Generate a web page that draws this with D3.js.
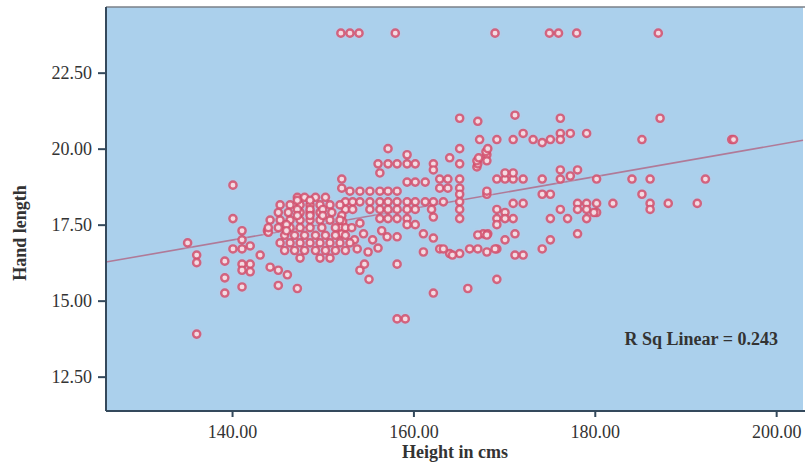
<!DOCTYPE html>
<html>
<head>
<meta charset="utf-8">
<script src="https://cdn.jsdelivr.net/npm/d3@7"></script>
<style>
  html, body { margin: 0; padding: 0; background: #ffffff; }
  svg { display: block; }
  text { font-family: "Liberation Serif", "DejaVu Serif", serif; }
</style>
</head>
<body>
<svg id="chart" width="805" height="465"></svg>
<script>
// ---- data (height in cms, hand length) ----
const points = [
  // top row
  [152,23.8],[153,23.8],[154,23.8],[158,23.8],[169,23.8],[175,23.8],[176,23.8],[178,23.8],[187,23.8],
  // upper right
  [171.2,21.1],[176.2,21.0],[187.2,21.0],[165.1,21.0],[167.1,20.9],[172.1,20.5],[169.2,20.3],[171.0,20.3],
  [173.2,20.3],[174.2,20.2],[175.1,20.3],[176.2,20.5],[176.2,20.3],[177.3,20.5],[179.1,20.5],[185.2,20.3],
  [195.1,20.3],[195.3,20.3],[167.3,20.3],
  [167.0,19.4],[167.1,19.5],[167.0,19.6],[167.2,19.7],[168.1,19.8],[168.0,19.9],[168.2,20.0],[168.1,19.6],
  [169.2,19.0],[170.1,19.0],[171.0,19.0],[172.1,19.0],[170.1,19.2],[171.0,19.2],[174.2,19.0],[176.2,19.3],
  [176.2,19.0],[177.3,19.1],[178.1,19.3],[180.2,19.0],[184.1,19.0],[186.1,19.0],[192.2,19.0],
  [168.1,18.5],[174.2,18.5],[175.1,18.5],[185.2,18.5],
  [171.0,18.2],[172.1,18.2],[178.1,18.2],[179.1,18.2],[180.2,18.2],[178.1,18.0],[179.1,18.0],[180.2,17.9],
  [182.0,18.2],[186.1,18.2],[186.1,18.0],[188.1,18.2],[191.3,18.2],[176.2,18.0],[169.2,18.0],[170.1,17.9],
  [169.2,17.7],[170.1,17.7],[171.0,17.7],[175.1,17.7],[177.0,17.7],[179.1,17.7],[179.9,17.9],
  [169.2,17.5],[167.7,17.2],[168.2,17.2],[171.2,17.2],[175.1,17.0],[170.1,17.0],[178.1,17.2],[174.2,16.7],
  [169.2,16.7],[168.1,16.6],[171.2,16.5],[172.1,16.5],[169.2,15.7],
  // bottom middle
  [158.2,14.4],[159.1,14.4],[162.2,15.25],[166.0,15.4],[154.1,16.0],[155.1,15.7],[158.2,16.2],[147.2,15.4],
  // left
  [140.1,18.8],[140.1,17.7],[135.1,16.9],[136.1,16.5],[136.1,16.25],[136.1,13.9],[141.1,17.3],[141.1,17.0],
  [140.1,16.7],[141.1,16.7],[142.0,16.8],[139.2,16.3],[141.1,16.2],[142.0,16.2],[141.1,16.0],[142.0,15.95],
  [139.2,15.75],[139.2,15.25],[141.1,15.45],[143.1,16.5],[144.2,16.1],[145.1,16.0],[146.1,15.85],[145.1,15.5],
  [145.1,17.9],[143.9,17.3],[144.0,17.25],
  // middle upper
  [157.2,20.0],[159.3,19.8],[164.0,19.7],[165.1,20.0],[165.1,19.5],[156.1,19.5],[157.2,19.5],[158.2,19.5],
  [159.3,19.5],[160.2,19.5],[162.2,19.5],[162.2,19.3],[156.3,19.2],[152.1,19.0],[152.1,18.7],[153.0,18.6],
  [154.1,18.6],[155.2,18.6],[156.3,18.6],[157.2,18.6],[158.2,18.6],[159.3,18.9],[160.2,18.9],[161.3,18.9],
  [162.9,19.0],[163.8,19.0],[165.1,19.0],[162.9,18.7],[163.8,18.7],[165.1,18.7],[165.1,18.5],[168.1,18.6],
  [152.5,18.25],[153.3,18.25],[154.1,18.25],[155.2,18.25],[156.3,18.25],[157.2,18.25],[158.2,18.25],
  [159.3,18.25],[160.2,18.25],[161.3,18.25],[162.2,18.25],[163.3,18.25],[165.1,18.25],
  [152.5,18.0],[153.3,18.0],[155.2,18.0],[156.3,18.0],[157.2,18.0],[158.2,18.0],[159.3,18.0],[160.2,18.0],
  [162.0,18.0],[165.1,18.0],
  [152.1,17.8],[152.2,17.6],[152.0,17.4],[152.1,17.2],
  [154.1,17.55],[156.3,17.7],[157.2,17.7],[158.2,17.7],[159.3,17.7],[159.3,17.5],[160.2,17.5],[162.2,17.75],
  [165.1,17.7],
  [157.1,17.1],[158.2,17.1],[161.1,17.2],[162.2,17.06],[167.1,17.16],[168.1,17.16],
  [156.1,16.73],[161.1,16.6],[162.9,16.7],[164.0,16.55],[165.1,16.55],[166.2,16.7],[167.1,16.7],[169.0,16.7],
  [163.3,16.7],[164.3,16.5],
  [153.5,17.0],[154.5,17.2],[155.5,17.0],[153.8,16.7],[155.0,16.6],[156.5,17.3],[154.6,16.2],
  // dense left cluster
  [147.2,18.4],[148.0,18.4],[149.2,18.4],[150.3,18.4],
  [145.3,18.15],[146.4,18.15],[147.5,18.15],[148.6,18.15],[149.7,18.15],[150.8,18.15],[151.9,18.15],
  [146.2,17.9],[147.5,17.9],[148.6,17.9],[149.7,17.9],[151.0,17.9],
  [144.2,17.65],[145.3,17.65],[146.4,17.65],[147.5,17.65],[148.6,17.65],[149.7,17.65],[150.8,17.65],[151.9,17.65],
  [144.0,17.4],[145.1,17.4],[146.4,17.4],[147.5,17.4],[148.6,17.4],[149.9,17.4],[151.4,17.4],[152.5,17.4],[153.2,17.4],
  [145.8,17.15],[146.9,17.15],[148.0,17.15],[149.2,17.15],[150.3,17.15],[151.4,17.15],[152.5,17.15],
  [145.3,16.9],[146.4,16.9],[147.5,16.9],[148.6,16.9],[149.7,16.9],[150.8,16.9],[151.9,16.9],[153.0,16.9],
  [145.8,16.65],[146.9,16.65],[148.0,16.65],[149.2,16.65],[150.3,16.65],[151.4,16.65],[152.5,16.65],
  [147.5,16.4],[149.7,16.4],[150.8,16.4],
  [147.2,18.3],[147.2,18.0],[147.2,17.8],[148.6,18.3],[148.6,18.0],[148.6,17.8],[150.0,18.0],[150.0,17.8],
  [146.0,17.5],[146.0,17.3]
];
const xTicks = [140, 160, 180, 200];
const yTicks = [12.5, 15, 17.5, 20, 22.5];
const xDomain = [126.1, 202.96];
const yDomain = [11.37, 24.66];
const fitLine = { intercept: 9.70, slope: 0.0521 };
const rSquared = 0.243;
const xTitle = "Height in cms";
const yTitle = "Hand length";

// ---- layout ----
const svg = d3.select("#chart");
const plot = { left: 106, top: 7, right: 803, bottom: 411 };

const x = d3.scaleLinear().domain(xDomain).range([plot.left, plot.right]);
const y = d3.scaleLinear().domain(yDomain).range([plot.bottom, plot.top]);

// plot background
svg.append("rect")
  .attr("x", plot.left).attr("y", plot.top)
  .attr("width", plot.right - plot.left).attr("height", plot.bottom - plot.top)
  .attr("fill", "#abd0ec");

// top border
svg.append("line")
  .attr("x1", plot.left).attr("x2", 805)
  .attr("y1", plot.top).attr("y2", plot.top)
  .attr("stroke", "#7a8088").attr("stroke-width", 1.5);

// fit line
svg.append("line")
  .attr("x1", x(xDomain[0])).attr("y1", y(fitLine.intercept + fitLine.slope * xDomain[0]))
  .attr("x2", x(xDomain[1])).attr("y2", y(fitLine.intercept + fitLine.slope * xDomain[1]))
  .attr("stroke", "#b07a98").attr("stroke-width", 1.6);

// points (ring markers)
const gPts = svg.append("g");
gPts.selectAll("circle.halo")
  .data(points)
  .join("circle")
  .attr("class", "halo")
  .attr("cx", d => x(d[0]))
  .attr("cy", d => y(d[1]))
  .attr("r", 6.5)
  .attr("fill", "#d8c4e0")
  .attr("opacity", 0.18);
gPts.selectAll("circle.ring")
  .data(points)
  .join("circle")
  .attr("class", "ring")
  .attr("cx", d => x(d[0]))
  .attr("cy", d => y(d[1]))
  .attr("r", 3.6)
  .attr("fill", "#f4dbe3")
  .attr("stroke", "#d24f6c")
  .attr("stroke-opacity", 0.85)
  .attr("stroke-width", 2.4);

// axes
const fmt = d3.format(".2f");
const xAxis = svg.append("g")
  .attr("transform", `translate(0,${plot.bottom})`)
  .call(d3.axisBottom(x).tickValues(xTicks).tickFormat(fmt).tickSize(6).tickPadding(8));
const yAxis = svg.append("g")
  .attr("transform", `translate(${plot.left},0)`)
  .call(d3.axisLeft(y).tickValues(yTicks).tickFormat(fmt).tickSize(8).tickPadding(6));

[xAxis, yAxis].forEach(g => {
  g.select(".domain").attr("stroke", "#34495c").attr("stroke-width", 2);
  g.selectAll(".tick line").attr("stroke", "#34495c").attr("stroke-width", 2);
  g.selectAll(".tick text")
    .attr("fill", "#333")
    .style("font-family", "'Liberation Serif', serif")
    .style("font-size", "18px");
});
xAxis.select(".domain").attr("d", `M${plot.left},0H805`);
yAxis.select(".domain").attr("d", `M0,${plot.bottom}V${plot.top}`);

// axis titles
svg.append("text")
  .attr("x", 455).attr("y", 458)
  .attr("text-anchor", "middle")
  .attr("font-weight", "bold").attr("font-size", 18)
  .attr("fill", "#333")
  .text(xTitle);

svg.append("text")
  .attr("transform", `translate(26,233) rotate(-90)`)
  .attr("text-anchor", "middle")
  .attr("font-weight", "bold").attr("font-size", 18)
  .attr("fill", "#333")
  .text(yTitle);

// R squared annotation
svg.append("text")
  .attr("x", 778).attr("y", 345)
  .attr("text-anchor", "end")
  .attr("font-weight", "bold").attr("font-size", 18)
  .attr("fill", "#333")
  .text(`R Sq Linear = ${rSquared}`);
</script>
</body>
</html>
